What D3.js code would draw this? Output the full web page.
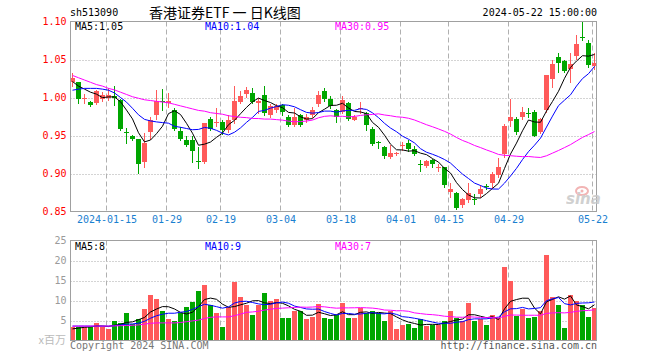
<!DOCTYPE html>
<html><head><meta charset="utf-8">
<script src="https://cdn.jsdelivr.net/npm/d3@7"></script>
<style>
html,body{margin:0;padding:0;background:#fff;}
svg{display:block;}
text{font-family:"DejaVu Sans Mono","Liberation Mono",monospace;font-size:10px;}
</style></head><body>
<svg id="c" width="660" height="360"></svg>
<script>
const dates = ["01-05","01-08","01-09","01-10","01-11","01-12","01-15","01-16","01-17","01-18","01-19","01-22","01-23","01-24","01-25","01-26","01-29","01-30","01-31","02-01","02-02","02-05","02-06","02-07","02-08","02-19","02-20","02-21","02-22","02-23","02-26","02-27","02-28","02-29","03-01","03-04","03-05","03-06","03-07","03-08","03-11","03-12","03-13","03-14","03-15","03-18","03-19","03-20","03-21","03-22","03-25","03-26","03-27","03-28","03-29","04-01","04-02","04-03","04-08","04-09","04-10","04-11","04-12","04-15","04-16","04-17","04-18","04-19","04-22","04-23","04-24","04-25","04-26","04-29","04-30","05-06","05-07","05-08","05-09","05-10","05-13","05-14","05-15","05-16","05-17","05-20","05-21","05-22"];
const open = [1.021,1.020,0.999,0.994,0.993,0.998,1.000,1.002,0.997,0.954,0.950,0.945,0.915,0.954,0.977,0.996,0.993,0.983,0.956,0.944,0.944,0.917,0.915,0.972,0.967,0.968,0.957,0.970,0.994,1.004,1.006,0.993,1.003,0.977,0.983,0.990,0.975,0.964,0.977,0.970,0.977,0.991,1.008,0.998,0.983,0.981,0.993,0.971,0.985,0.980,0.958,0.941,0.935,0.922,0.926,0.937,0.940,0.932,0.912,0.910,0.918,0.908,0.908,0.876,0.875,0.858,0.865,0.867,0.873,0.884,0.888,0.898,0.925,0.969,0.972,0.975,0.980,0.981,0.955,0.983,1.024,1.053,1.048,1.037,1.054,1.080,1.072,1.042];
const high = [1.032,1.021,1.005,0.996,1.010,1.007,1.012,1.015,0.998,0.960,0.951,0.946,0.953,0.975,1.010,1.011,1.006,0.986,0.961,0.950,0.950,0.935,0.967,0.975,0.986,0.970,0.977,1.015,1.008,1.014,1.013,0.999,1.015,0.991,0.992,0.992,0.977,0.986,0.978,0.978,0.988,1.008,1.012,1.002,0.985,1.002,0.994,0.977,0.994,0.981,0.961,0.943,0.936,0.937,0.928,0.942,0.944,0.936,0.918,0.918,0.919,0.913,0.909,0.888,0.876,0.868,0.888,0.873,0.885,0.886,0.902,0.920,0.965,0.998,0.974,0.987,0.986,0.983,0.973,1.029,1.050,1.059,1.050,1.058,1.082,1.101,1.076,1.058];
const low = [1.015,0.993,0.993,0.989,0.992,0.995,0.997,0.990,0.957,0.940,0.944,0.901,0.909,0.946,0.972,0.984,0.987,0.957,0.944,0.936,0.915,0.907,0.914,0.957,0.962,0.952,0.955,0.966,0.993,1.001,0.993,0.980,0.977,0.975,0.981,0.977,0.962,0.962,0.962,0.968,0.975,0.989,0.996,0.986,0.968,0.979,0.971,0.970,0.979,0.957,0.937,0.933,0.921,0.921,0.924,0.931,0.929,0.924,0.903,0.909,0.908,0.903,0.882,0.869,0.853,0.856,0.863,0.860,0.869,0.880,0.881,0.895,0.922,0.962,0.952,0.972,0.975,0.949,0.953,0.981,1.014,1.034,1.033,1.021,1.051,1.076,1.040,1.038];
const close = [1.026,0.998,1.000,0.990,1.008,1.003,1.003,1.000,0.958,0.953,0.945,0.912,0.940,0.970,0.995,0.994,0.995,0.959,0.945,0.937,0.929,0.916,0.966,0.959,0.968,0.957,0.971,0.995,1.002,1.010,0.994,0.995,0.979,0.989,0.989,0.981,0.964,0.975,0.964,0.974,0.984,1.003,0.998,0.989,0.975,0.997,0.972,0.975,0.986,0.964,0.939,0.940,0.923,0.927,0.927,0.938,0.932,0.926,0.911,0.917,0.912,0.909,0.885,0.880,0.854,0.866,0.874,0.866,0.879,0.883,0.900,0.908,0.963,0.974,0.955,0.981,0.979,0.950,0.972,1.029,1.044,1.046,1.035,1.044,1.071,1.079,1.043,1.046];
const ma5 = [1.021,1.015,1.011,1.007,1.0044,0.9998,1.0008,1.0008,0.9944,0.9834,0.9718,0.9536,0.9416,0.944,0.9524,0.9622,0.9788,0.9826,0.9776,0.966,0.953,0.9372,0.9386,0.9414,0.9476,0.9532,0.9642,0.970,0.9786,0.987,0.9944,0.9992,0.996,0.9934,0.9892,0.9866,0.9804,0.9796,0.9746,0.9716,0.9722,0.980,0.9846,0.9896,0.9898,0.9924,0.9862,0.9816,0.981,0.9788,0.9672,0.9608,0.9504,0.9386,0.9312,0.931,0.9294,0.930,0.9268,0.9248,0.9196,0.915,0.9068,0.9006,0.888,0.8788,0.8718,0.868,0.8678,0.8736,0.8804,0.8872,0.9066,0.9256,0.940,0.9562,0.9704,0.9678,0.9674,0.9822,0.9948,1.0082,1.0252,1.0396,1.048,1.055,1.0544,1.0566];
const ma10 = [1.0096,1.011,1.012,1.012,1.012,1.011,1.0096,1.006,1.000,0.9939,0.9858,0.9772,0.9712,0.9692,0.9679,0.967,0.9662,0.9621,0.9608,0.9592,0.9576,0.958,0.9606,0.9595,0.9568,0.9531,0.9507,0.9543,0.960,0.9673,0.9738,0.9817,0.983,0.986,0.9881,0.9905,0.9898,0.9878,0.984,0.9804,0.9794,0.9802,0.9821,0.9821,0.9807,0.9823,0.9831,0.9831,0.9853,0.9843,0.9798,0.9735,0.966,0.9598,0.955,0.9491,0.9451,0.9402,0.9327,0.928,0.9253,0.9222,0.9184,0.9137,0.9064,0.8992,0.8934,0.8874,0.8842,0.8808,0.8796,0.8795,0.8873,0.8967,0.9068,0.9183,0.9288,0.9372,0.9465,0.9611,0.9755,0.9893,0.9965,1.0035,1.0151,1.0249,1.0313,1.0409];
const ma30 = [1.029,1.026,1.023,1.020,1.017,1.015,1.012,1.010,1.007,1.004,1.001,0.999,0.997,0.996,0.995,0.994,0.993,0.991,0.989,0.987,0.985,0.983,0.982,0.980,0.979,0.978,0.976,0.975,0.974,0.9735,0.9724,0.9723,0.9716,0.9716,0.9709,0.9702,0.9689,0.9681,0.9683,0.969,0.9703,0.9733,0.9752,0.9759,0.9752,0.9753,0.9745,0.9751,0.9764,0.9773,0.9777,0.9785,0.977,0.976,0.9746,0.974,0.9727,0.9704,0.9673,0.9642,0.9615,0.9586,0.9555,0.9519,0.9474,0.9435,0.9405,0.9369,0.9341,0.931,0.9282,0.9251,0.9239,0.9234,0.9227,0.9222,0.9224,0.9216,0.9211,0.9233,0.9268,0.9303,0.9341,0.938,0.9428,0.9475,0.9512,0.9552];
const volume = [3.5,3.5,3.3,3.5,4.3,3.5,2.8,5.0,4.5,6.8,4.2,5.5,7.8,11.3,10.5,7.3,5.3,5.0,7.0,8.5,9.6,12.3,13.8,8.8,7.0,3.5,8.5,14.6,11.0,9.0,6.5,8.8,11.8,10.0,10.3,5.6,5.6,7.5,7.5,5.3,5.8,9.2,5.6,5.3,6.3,9.5,5.6,5.6,8.2,6.9,7.5,6.9,4.8,7.5,2.8,3.8,4.1,3.1,5.5,3.6,3.9,3.9,5.0,7.3,5.6,5.0,9.3,5.0,5.4,3.8,6.3,5.7,18.3,14.8,6.1,8.0,5.6,6.0,7.5,21.3,11.0,8.8,3.1,11.5,10.0,9.0,6.0,8.2];
const vma5 = [2.9,3.1,3.3,3.4,3.62,3.62,3.48,3.82,4.02,4.52,4.66,5.2,5.76,7.12,7.86,8.48,8.44,7.88,7.02,6.62,7.08,8.48,10.24,10.6,10.3,9.08,8.32,8.48,8.92,9.32,9.92,9.98,9.42,9.22,9.48,9.3,8.66,7.8,7.3,6.3,6.34,7.06,6.68,6.24,6.44,7.18,6.46,6.46,7.04,7.16,6.76,7.02,6.86,6.72,5.9,5.16,4.6,4.26,3.86,4.02,4.04,4.0,4.38,4.74,5.14,5.36,6.44,6.44,6.06,5.7,5.96,5.24,7.9,9.78,10.24,10.58,10.56,8.1,6.64,9.68,10.28,10.92,10.34,11.14,8.88,8.48,7.92,8.94];
const vma10 = [3.6,3.6,3.6,3.6,3.6,3.6,3.6,3.7,3.9,4.07,4.14,4.34,4.79,5.57,6.19,6.57,6.82,6.82,7.07,7.24,7.78,8.46,9.06,8.81,8.46,8.08,8.4,9.36,9.76,9.81,9.5,9.15,8.95,9.07,9.4,9.61,9.32,8.61,8.26,7.89,7.82,7.86,7.24,6.77,6.37,6.76,6.76,6.57,6.64,6.8,6.97,6.74,6.66,6.88,6.53,5.96,5.81,5.56,5.29,4.96,4.6,4.3,4.32,4.3,4.58,4.7,5.22,5.41,5.4,5.42,5.66,5.84,7.17,7.92,7.97,8.27,7.9,8.0,8.21,9.96,10.43,10.74,9.22,8.89,9.28,9.38,9.42,9.64];
const vma30 = [3.6,3.6,3.6,3.6,3.6,3.6,3.6,3.65,3.7,3.75,3.8,3.9,4.1,4.3,4.4,4.4,4.4,4.4,4.5,4.7,4.9,5.1,5.5,5.8,5.9,5.9,5.9,6.2,6.6,7.04,7.14,7.32,7.6,7.82,8.02,8.09,8.18,8.26,8.36,8.31,8.37,8.49,8.42,8.22,8.08,8.15,8.16,8.18,8.22,8.17,8.1,7.92,7.62,7.57,7.43,7.44,7.3,6.91,6.73,6.55,6.46,6.3,6.07,5.98,5.83,5.81,5.93,5.85,5.78,5.73,5.74,5.63,6.05,6.37,6.36,6.31,6.31,6.32,6.3,6.78,6.9,6.96,6.9,7.04,7.28,7.45,7.51,7.68];
const priceTicks = [0.85,0.90,0.95,1.00,1.05,1.10];
const volTicks = [5,10,15,20,25];
const dateTicks = ["01-15","01-29","02-19","03-04","03-18","04-01","04-15","04-29","05-22"];
const dateTickLabels = ["2024-01-15","01-29","02-19","03-04","03-18","04-01","04-15","04-29","05-22"];
const priceLegend = ["MA5:1.05","MA10:1.04","MA30:0.95"];
const volLegend = ["MA5:8","MA10:9","MA30:7"];
const maColors = ["#000000","#0000ff","#ff00ff"];

const RED = "#ff5a5a", GREEN = "#00a600";
const L = 70.5, R = 596.5;
const svg = d3.select("#c");

const x = d3.scalePoint().domain(dates).range([72, 594]);
const y = d3.scaleLinear().domain([0.85, 1.10]).range([211.5, 21.5]);
const yv = d3.scaleLinear().domain([0, 25]).range([340.5, 240.5]);

// header
svg.append("text").attr("x", 70).attr("y", 16).text("sh513090");
svg.append("text").attr("x", 149).attr("y", 18)
  .style("font-family", "'Noto Sans CJK SC','DejaVu Sans Mono',sans-serif").style("font-size", "14px")
  .text("香港证券ETF 一 日K线图");
svg.append("text").attr("x", 597).attr("y", 16).attr("text-anchor", "end").text("2024-05-22 15:00:00");

function grid(top, bottom, scale, ticks) {
  const g = svg.append("g");
  g.selectAll("line.h").data(ticks).join("line")
    .attr("x1", L).attr("x2", R)
    .attr("y1", d => Math.round(scale(d)) + 0.5).attr("y2", d => Math.round(scale(d)) + 0.5)
    .attr("stroke", "#a8a8a8").attr("stroke-dasharray", "1,2");
  g.selectAll("line.v").data(dateTicks).join("line")
    .attr("x1", d => x(d) - 1.5).attr("x2", d => x(d) - 1.5)
    .attr("y1", top).attr("y2", bottom)
    .attr("stroke", "#b0b0b0").attr("stroke-dasharray", "5,3");
}
grid(21.5, 211.5, y, [0.90, 0.95, 1.00, 1.05]);
grid(240.5, 340.5, yv, [5, 10, 15, 20]);

// price axis labels
const ay = svg.append("g").attr("transform", `translate(${L},0)`)
  .call(d3.axisLeft(y).tickValues(priceTicks).tickFormat(d3.format(".2f")).tickSize(0).tickPadding(4));
ay.select(".domain").remove();
ay.selectAll("text").attr("fill", "#ff0000").style("font-family", "'DejaVu Sans Mono',monospace").style("font-size", "10px");

const av = svg.append("g").attr("transform", `translate(${L},0)`)
  .call(d3.axisLeft(yv).tickValues(volTicks).tickSize(0).tickPadding(4));
av.select(".domain").remove();
av.selectAll("text").attr("fill", "#9a9a9a").style("font-family", "'DejaVu Sans Mono',monospace").style("font-size", "10px");
svg.append("text").attr("x", 66).attr("y", 344).attr("text-anchor", "end").attr("fill", "#bbbbbb")
  .style("font-family", "'Noto Sans CJK SC',sans-serif").style("font-size", "11px").text("x百万");

// date axis
const ax = svg.append("g").attr("transform", `translate(-1.5,211.5)`)
  .call(d3.axisBottom(x).tickValues(dateTicks).tickFormat((d, i) => dateTickLabels[i]).tickSize(0).tickPadding(4));
ax.select(".domain").remove();
ax.selectAll("text").attr("fill", "#1a80d0").style("font-family", "'DejaVu Sans Mono',monospace").style("font-size", "10px");

// candles
const idx = d3.range(dates.length);
const cg = svg.append("g");
idx.forEach(i => {
  const up = close[i] >= open[i];
  const col = up ? RED : GREEN;
  const cx = x(dates[i]);
  cg.append("line").attr("x1", cx + 0.5).attr("x2", cx + 0.5)
    .attr("y1", Math.round(y(high[i]))).attr("y2", Math.round(y(low[i])) + 1)
    .attr("stroke", col).attr("stroke-width", 1);
  const t = Math.round(y(Math.max(open[i], close[i])));
  const b = Math.round(y(Math.min(open[i], close[i])));
  cg.append("rect").attr("x", cx - 2).attr("width", 5)
    .attr("y", t).attr("height", Math.max(1, b - t)).attr("fill", col);
});

// MA lines price
[ma5, ma10, ma30].forEach((arr, k) => {
  svg.append("path").datum(idx)
    .attr("d", d3.line().x(i => x(dates[i]) + 0.5).y(i => y(arr[i])))
    .attr("fill", "none").attr("stroke", maColors[k]).attr("stroke-width", 1);
});

// volume bars
const vg = svg.append("g");
vg.selectAll("rect").data(idx).join("rect")
  .attr("x", i => x(dates[i]) - 2).attr("width", 5)
  .attr("y", i => Math.round(yv(volume[i])))
  .attr("height", i => 340 - Math.round(yv(volume[i])))
  .attr("fill", i => close[i] >= open[i] ? RED : GREEN);

[vma5, vma10, vma30].forEach((arr, k) => {
  svg.append("path").datum(idx)
    .attr("d", d3.line().x(i => x(dates[i]) + 0.5).y(i => yv(arr[i])))
    .attr("fill", "none").attr("stroke", maColors[k]).attr("stroke-width", 1);
});

// borders
svg.append("rect").attr("x", L).attr("y", 21.5).attr("width", R - L).attr("height", 190)
  .attr("fill", "none").attr("stroke", "#a0a0a0");
svg.append("rect").attr("x", L).attr("y", 240.5).attr("width", R - L).attr("height", 100)
  .attr("fill", "none").attr("stroke", "#a0a0a0");

// legends
const lx = [75, 205, 335];
priceLegend.forEach((t, k) => svg.append("text").attr("x", lx[k]).attr("y", 30).attr("fill", maColors[k]).text(t));
volLegend.forEach((t, k) => svg.append("text").attr("x", lx[k]).attr("y", 250).attr("fill", maColors[k]).text(t));

// watermark
const wm = svg.append("g").attr("opacity", 0.85);
wm.append("ellipse").attr("cx", 582).attr("cy", 191).attr("rx", 6).attr("ry", 4)
  .attr("fill", "none").attr("stroke", "#f0a8a8").attr("stroke-width", 2);
wm.append("circle").attr("cx", 582).attr("cy", 191).attr("r", 1.5).attr("fill", "#f0a8a8");
wm.append("text").attr("x", 566).attr("y", 204).attr("fill", "#c8c8c8")
  .style("font-family", "'DejaVu Sans',sans-serif").style("font-size", "15px")
  .style("font-style", "italic").style("font-weight", "bold").text("sina");

// footer
svg.append("text").attr("x", 70).attr("y", 349).attr("fill", "#777").text("Copyright 2024 SINA.COM");
svg.append("text").attr("x", 597).attr("y", 349).attr("text-anchor", "end").attr("fill", "#555").text("http://finance.sina.com.cn");
</script>
</body></html>
